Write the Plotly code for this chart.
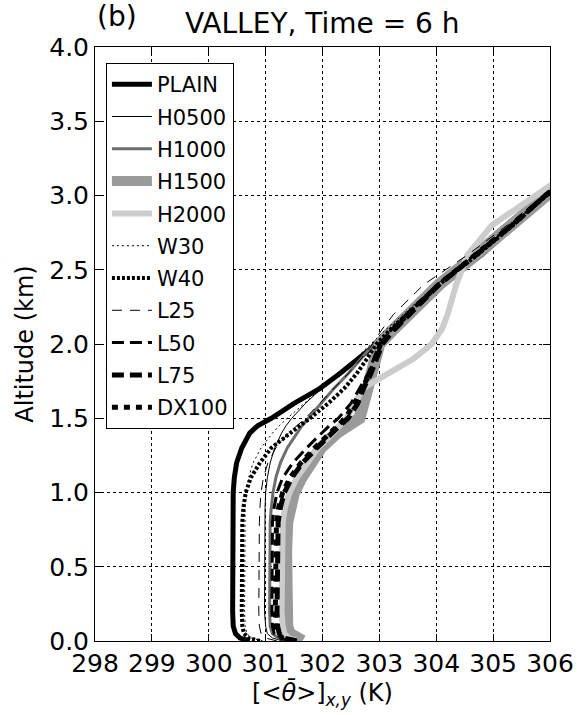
import plotly.graph_objects as go

# Altitude levels (km)
Z = [0.0, 0.02, 0.05, 0.1, 0.2, 0.4, 0.6, 0.8, 0.9, 1.0, 1.1, 1.2, 1.3, 1.4, 1.45,
     1.5, 1.6, 1.7, 1.8, 1.9, 2.0, 2.1, 2.2, 2.4, 2.6, 2.8, 3.0, 3.2]

PLAIN = [300.72, 300.55, 300.47, 300.43, 300.42, 300.42, 300.42, 300.42, 300.42, 300.43, 300.45, 300.49, 300.58, 300.72, 300.86,
         301.10, 301.50, 301.95, 302.30, 302.62, 302.95, 303.22, 303.50, 304.08, 304.80, 305.38, 305.95, 306.60]
H0500 = [301.30, 301.12, 301.03, 301.00, 300.98, 300.98, 300.98, 300.98, 300.99, 301.00, 301.03, 301.08, 301.16, 301.28, 301.36,
         301.46, 301.70, 301.98, 302.32, 302.65, 302.92, 303.18, 303.45, 304.02, 304.72, 305.35, 305.92, 306.55]
H1000 = [301.45, 301.22, 301.12, 301.08, 301.07, 301.07, 301.07, 301.08, 301.10, 301.13, 301.18, 301.26, 301.38, 301.55, 301.64,
         301.75, 301.98, 302.20, 302.45, 302.68, 302.90, 303.15, 303.42, 304.00, 304.70, 305.33, 305.90, 306.55]
H1500 = [301.65, 301.50, 301.42, 301.38, 301.37, 301.36, 301.36, 301.38, 301.42, 301.50, 301.63, 301.80, 301.97, 302.25, 302.45,
         302.65, 302.72, 302.78, 302.85, 302.92, 303.00, 303.25, 303.52, 304.05, 304.70, 305.32, 305.92, 306.55]
H2000 = [301.55, 301.40, 301.33, 301.30, 301.28, 301.28, 301.28, 301.30, 301.34, 301.42, 301.55, 301.72, 301.92, 302.18, 302.30,
         302.42, 302.58, 302.70, 303.15, 303.60, 303.92, 304.10, 304.20, 304.35, 304.55, 304.98, 305.75, 306.50]
W30 = [300.95, 300.75, 300.67, 300.64, 300.63, 300.63, 300.63, 300.63, 300.64, 300.66, 300.70, 300.78, 300.92, 301.12, 301.24,
       301.38, 301.68, 301.98, 302.28, 302.58, 302.85, 303.12, 303.42, 304.00, 304.68, 305.32, 305.90, 306.55]
W40 = [300.90, 300.70, 300.62, 300.59, 300.58, 300.58, 300.58, 300.59, 300.61, 300.65, 300.74, 300.90, 301.10, 301.42, 301.60,
       301.78, 302.10, 302.38, 302.60, 302.78, 302.95, 303.20, 303.48, 304.05, 304.72, 305.35, 305.93, 306.58]
L25 = [301.20, 301.00, 300.92, 300.89, 300.88, 300.88, 300.88, 300.89, 300.90, 300.92, 300.96, 301.04, 301.18, 301.40, 301.55,
       301.70, 301.95, 302.20, 302.45, 302.68, 302.88, 303.05, 303.25, 303.78, 304.55, 305.25, 305.88, 306.55]
L50 = [301.45, 301.25, 301.15, 301.12, 301.11, 301.11, 301.11, 301.12, 301.15, 301.20, 301.30, 301.48, 301.72, 301.98, 302.12,
       302.28, 302.50, 302.65, 302.80, 302.90, 303.00, 303.22, 303.48, 304.02, 304.68, 305.32, 305.92, 306.55]
L75 = [301.55, 301.32, 301.24, 301.21, 301.20, 301.20, 301.20, 301.22, 301.26, 301.33, 301.46, 301.65, 301.90, 302.15, 302.30,
       302.45, 302.62, 302.72, 302.85, 302.95, 303.05, 303.27, 303.52, 304.05, 304.70, 305.33, 305.92, 306.55]
DX100 = [301.52, 301.30, 301.21, 301.18, 301.17, 301.17, 301.17, 301.19, 301.23, 301.30, 301.43, 301.62, 301.86, 302.12, 302.26,
         302.40, 302.56, 302.70, 302.83, 302.93, 303.02, 303.25, 303.50, 304.04, 304.70, 305.33, 305.92, 306.55]

NAMES = ["PLAIN", "H0500", "H1000", "H1500", "H2000", "W30", "W40", "L25", "L50", "L75", "DX100"]
SERIES = [PLAIN, H0500, H1000, H1500, H2000, W30, W40, L25, L50, L75, DX100]
X_TICKS = [298, 299, 300, 301, 302, 303, 304, 305, 306]
Y_TICKS = [0.0, 0.5, 1.0, 1.5, 2.0, 2.5, 3.0, 3.5, 4.0]

STYLES = [
    dict(color="black", width=5, dash="solid"),
    dict(color="black", width=1, dash="solid"),
    dict(color="#6e6e6e", width=3, dash="solid"),
    dict(color="#9a9a9a", width=12, dash="solid"),
    dict(color="#cccccc", width=6, dash="solid"),
    dict(color="black", width=1, dash="2px,3px"),
    dict(color="black", width=4, dash="3px,2px"),
    dict(color="black", width=1, dash="10px,8px"),
    dict(color="black", width=3, dash="12px,6px"),
    dict(color="black", width=5, dash="12px,6px"),
    dict(color="black", width=5, dash="6px,6px"),
]

FONT = "DejaVu Sans"
fig = go.Figure()
for name, vals, st in zip(NAMES, SERIES, STYLES):
    fig.add_trace(go.Scatter(x=vals, y=Z, mode="lines", name=name, legendgroup=name,
                             line=st))

axis_common = dict(showline=True, linecolor="black", linewidth=1, mirror="ticks",
                   ticks="inside", ticklen=7, tickcolor="black", showgrid=True,
                   gridcolor="black", gridwidth=1, griddash="dot", zeroline=False,
                   automargin=False,
                   tickfont=dict(family=FONT, size=25, color="black"))
fig.update_xaxes(range=[298, 306], tickvals=X_TICKS, ticktext=[str(v) for v in X_TICKS],
                 title=dict(text="[&lt;<i>θ̄</i>&gt;]<sub><i>x,y</i></sub> (K)",
                            font=dict(family=FONT, size=24, color="black"), standoff=2),
                 **axis_common)
fig.update_yaxes(range=[0, 4], tickvals=Y_TICKS, ticktext=["%.1f" % v for v in Y_TICKS],
                 title=dict(text="Altitude (km)", font=dict(family=FONT, size=24, color="black"), standoff=8),
                 **axis_common)

fig.update_layout(
    width=578, height=715,
    margin=dict(l=95, r=28, t=47, b=74),
    plot_bgcolor="white", paper_bgcolor="white",
    font=dict(family=FONT, color="black"),
    legend=dict(x=0.024, y=0.973, xanchor="left", yanchor="top",
                bgcolor="white", bordercolor="black", borderwidth=1,
                font=dict(family=FONT, size=21, color="black"),
                tracegroupgap=2, itemwidth=40),
    annotations=[
        dict(text="VALLEY, Time = 6 h", x=0.5, y=1.0, xref="paper", yref="paper",
             xanchor="center", yanchor="bottom", yshift=5, showarrow=False,
             font=dict(family=FONT, size=28, color="black")),
        dict(text="(b)", x=0.0, y=1.0, xref="paper", yref="paper",
             xanchor="left", yanchor="bottom", yshift=12, xshift=0, showarrow=False,
             font=dict(family=FONT, size=28, color="black")),
    ],
)

fig.write_html("out.html")
